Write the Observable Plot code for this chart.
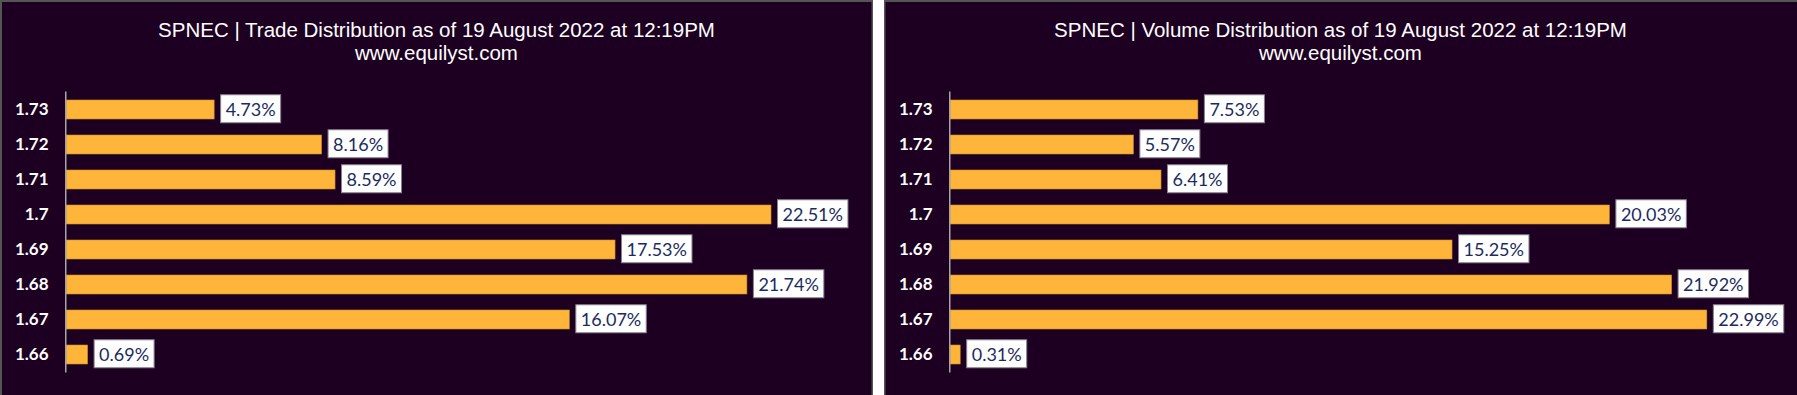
<!DOCTYPE html>
<html>
<head>
<meta charset="utf-8">
<script src="https://cdn.jsdelivr.net/npm/d3@7"></script>
<script src="https://cdn.jsdelivr.net/npm/@observablehq/plot@0.6"></script>
<style>
  html, body { margin: 0; padding: 0; background: #ffffff; }
  body { width: 1797px; height: 395px; position: relative; overflow: hidden; }
  .panel { position: absolute; top: 0; height: 395px; background: #1d0021; }
  .frame { position: absolute; left: 0; top: 0; right: 0; bottom: 0; pointer-events: none; }
  .title { height: 80px; box-sizing: border-box; padding-top: 18px; text-align: center; color: #ffffff;
           font-family: "Liberation Sans", Arial, sans-serif; font-size: 20.5px; line-height: 23px; }
  .panel svg { display: block; }
</style>
</head>
<body>
<div id="p1" class="panel" style="left:0px;width:873px;"></div>
<div id="p2" class="panel" style="left:884px;width:913px;"></div>
<script>
// ---- data ----
const prices = ["1.73", "1.72", "1.71", "1.7", "1.69", "1.68", "1.67", "1.66"];
const tradePct = [4.73, 8.16, 8.59, 22.51, 17.53, 21.74, 16.07, 0.69];
const volumePct = [7.53, 5.57, 6.41, 20.03, 15.25, 21.92, 22.99, 0.31];
const titles = [
  "SPNEC | Trade Distribution as of 19 August 2022 at 12:19PM",
  "SPNEC | Volume Distribution as of 19 August 2022 at 12:19PM"
];
const subtitle = "www.equilyst.com";
const xDomain = [0, 25];

function buildPanel(el, width, title, values, frameShadow) {
  const data = prices.map((p, i) => ({price: p, value: values[i]}));

  const t = document.createElement("div");
  t.className = "title";
  const l1 = document.createElement("div"); l1.textContent = title;
  const l2 = document.createElement("div"); l2.textContent = subtitle;
  t.appendChild(l1); t.appendChild(l2);
  el.appendChild(t);

  const chart = Plot.plot({
    width,
    height: 315,
    marginLeft: 66,
    marginRight: 24,
    marginTop: 11.5,
    marginBottom: 22.5,
    style: {background: "transparent", color: "#ffffff", overflow: "visible"},
    x: {domain: xDomain, axis: null},
    y: {domain: prices, padding: 0, label: null, axis: null},
    marks: [
      Plot.barX(data, {x: "value", y: "price", fill: "#ffb53a", stroke: "#c98c2c", strokeWidth: 0.6, insetTop: 8, insetBottom: 8}),
      Plot.ruleX([0], {stroke: "#a6a6a6", strokeWidth: 1.5, dx: -0.75}),
      Plot.axisY({tickSize: 0, tickPadding: 18, fontFamily: "Lato", fontWeight: "bold", fontSize: 17, label: null}),
      Plot.text(data, {x: "value", y: "price", text: d => d.value.toFixed(2) + "%", textAnchor: "start", dx: 11,
                       fill: "#1c2b5e", fontFamily: "Lato", fontSize: 18})
    ]
  });
  el.appendChild(chart);

  // white label boxes behind the value labels, sized from the rendered text
  const g = chart.querySelector('g[aria-label="text"]');
  if (g) {
    g.querySelectorAll("text").forEach(tx => {
      const b = tx.getBBox();
      const cy = +tx.getAttribute("y");
      const r = document.createElementNS("http://www.w3.org/2000/svg", "rect");
      r.setAttribute("x", b.x - 5);
      r.setAttribute("y", (isNaN(cy) ? b.y + b.height / 2 : cy) - 14);
      r.setAttribute("width", b.width + 10);
      r.setAttribute("height", 28);
      r.setAttribute("fill", "#ffffff");
      r.setAttribute("stroke", "#8a7f90");
      r.setAttribute("stroke-width", 1);
      const tr = tx.getAttribute("transform");
      if (tr) r.setAttribute("transform", tr);
      g.insertBefore(r, tx);
    });
  }

  const f = document.createElement("div");
  f.className = "frame";
  f.style.boxShadow = frameShadow;
  el.appendChild(f);
}

buildPanel(document.getElementById("p1"), 873, titles[0], tradePct,
  "inset 2px 2px 0 #555555, inset -1.5px 0 0 #555555");
buildPanel(document.getElementById("p2"), 913, titles[1], volumePct,
  "inset 1.5px 2px 0 #555555");
</script>
</body>
</html>
